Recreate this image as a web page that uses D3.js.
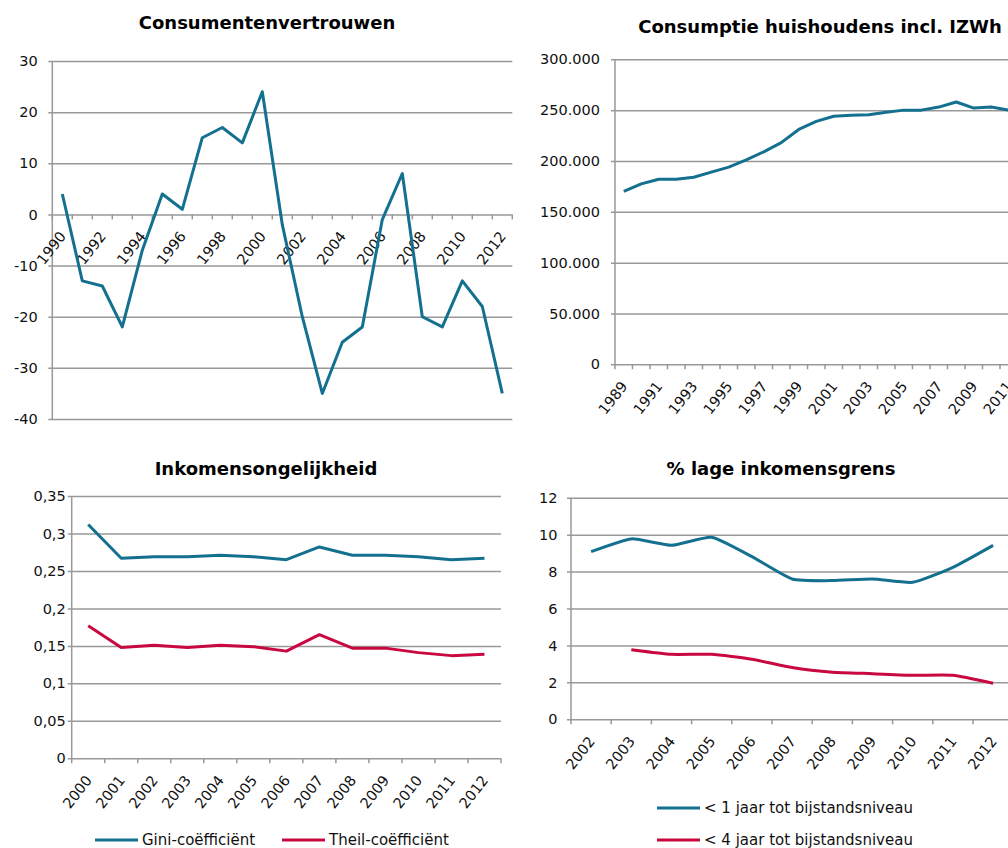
<!DOCTYPE html>
<html>
<head>
<meta charset="utf-8">
<script src="https://cdn.jsdelivr.net/npm/d3@7"></script>
<style>
    body { margin: 0; background: #fff; }
    svg { display: block; font-family: "DejaVu Sans", Verdana, sans-serif; }
</style>
</head>
<body>
<svg id="chart" width="1008" height="848"></svg>
<script>
// consumentenvertrouwen (saldo)
var vertrouwenJaren = ["1990", "1991", "1992", "1993", "1994", "1995", "1996", "1997", "1998", "1999", "2000", "2001",
    "2002", "2003", "2004", "2005", "2006", "2007", "2008", "2009", "2010", "2011", "2012"];
var vertrouwen = [4, -13, -14, -22, -7, 4, 1, 15, 17, 14, 24, -2, -20, -35, -25, -22, -1, 8, -20, -22, -13, -18, -35];
var vertrouwenTicks = [-40, -30, -20, -10, 0, 10, 20, 30];

// consumptie huishoudens incl. IZWh
var consumptieJaren = ["1989", "1990", "1991", "1992", "1993", "1994", "1995", "1996", "1997", "1998", "1999", "2000",
    "2001", "2002", "2003", "2004", "2005", "2006", "2007", "2008", "2009", "2010", "2011"];
var consumptie = [170000, 177500, 182000, 182000, 184000, 189000, 194000, 201000, 209000, 218000, 231000, 239000,
    244000, 245000, 245500, 248000, 250000, 250000, 253000, 258000, 252000, 253000, 250000];
var consumptieTicks = [0, 50000, 100000, 150000, 200000, 250000, 300000];

// inkomensongelijkheid
var ongelijkJaren = ["2000", "2001", "2002", "2003", "2004", "2005", "2006", "2007", "2008", "2009", "2010", "2011", "2012"];
var gini = [0.312, 0.267, 0.269, 0.269, 0.271, 0.269, 0.265, 0.282, 0.271, 0.271, 0.269, 0.265, 0.267];
var theil = [0.177, 0.148, 0.151, 0.148, 0.151, 0.149, 0.143, 0.165, 0.147, 0.147, 0.141, 0.137, 0.139];
var ongelijkTicks = [0, 0.05, 0.1, 0.15, 0.2, 0.25, 0.3, 0.35];

// % lage inkomensgrens
var inkomenJaren = ["2002", "2003", "2004", "2005", "2006", "2007", "2008", "2009", "2010", "2011", "2012"];
var onder1jaar = [9.08, 9.77, 9.42, 9.86, 8.81, 7.6, 7.51, 7.6, 7.42, 8.23, 9.42];
var onder4jaar = [null, 3.77, 3.52, 3.52, 3.25, 2.8, 2.55, 2.47, 2.38, 2.38, 1.95];
var inkomenTicks = [0, 2, 4, 6, 8, 10, 12];

var blue = "#13708f",
    red = "#c8083f",
    gridColor = "#999999",
    textColor = "#111111";

var svg = d3.select("#chart");

var nl = d3.formatLocale({decimal: ",", thousands: ".", grouping: [3], currency: ["€", ""], minus: "-"});

function draw_panel(cfg) {
    var g = svg.append("g");

    var x = d3.scaleBand().domain(cfg.cats).range([cfg.left, cfg.right]);
    var y = d3.scaleLinear().domain(cfg.yDomain).range([cfg.bottom, cfg.top]);
    var bw = x.bandwidth();

    // title
    g.append("text")
        .attr("x", cfg.titleX)
        .attr("y", cfg.titleY)
        .attr("text-anchor", "middle")
        .style("font-size", "18px")
        .style("font-weight", "bold")
        .attr("fill", "#000")
        .text(cfg.title);

    // y axis with gridlines
    var yAxis = d3.axisLeft(y)
        .tickValues(cfg.yTicks)
        .tickSize(-(cfg.right - cfg.left + 4))
        .tickPadding(cfg.yPad)
        .tickFormat(cfg.yFormat);

    g.append("g")
        .attr("transform", "translate(" + (cfg.left - 4) + ",0)")
        .call(yAxis)
        .call(function (a) { a.select(".domain").remove(); })
        .call(function (a) {
            a.selectAll("line").attr("stroke", gridColor).attr("stroke-width", 1.5);
            a.selectAll("text")
                .attr("fill", textColor)
                .style("font-size", "14.5px")
                .style("font-family", "DejaVu Sans, Verdana, sans-serif");
        });

    // vertical axis line
    g.append("line")
        .attr("x1", cfg.left).attr("x2", cfg.left)
        .attr("y1", cfg.top).attr("y2", cfg.bottom)
        .attr("stroke", gridColor).attr("stroke-width", 1.5);

    // category axis
    var axisY = y(cfg.xAxisAt);
    var bounds = cfg.cats.map(function (c) { return x(c); });
    bounds.push(cfg.right);

    g.append("g").selectAll("line")
        .data(bounds)
        .enter().append("line")
        .attr("x1", function (d) { return d; })
        .attr("x2", function (d) { return d; })
        .attr("y1", axisY)
        .attr("y2", axisY + 5)
        .attr("stroke", gridColor)
        .attr("stroke-width", 1.5);

    var labelCats = cfg.cats.filter(function (c, i) { return i % cfg.labelEvery === 0; });
    var xAxis = d3.axisBottom(x).tickValues(labelCats).tickSize(0);

    g.append("g")
        .attr("transform", "translate(0," + axisY + ")")
        .call(xAxis)
        .call(function (a) { a.select(".domain").remove(); })
        .call(function (a) {
            a.selectAll("text")
                .attr("x", 0)
                .attr("y", 0)
                .attr("dy", "0.35em")
                .attr("text-anchor", "end")
                .attr("transform", "translate(0.5,19) rotate(-52)")
                .attr("fill", textColor)
                .style("font-size", "14.5px")
                .style("font-family", "DejaVu Sans, Verdana, sans-serif");
        });

    // series
    cfg.series.forEach(function (s) {
        var line = d3.line()
            .defined(function (d) { return d !== null; })
            .x(function (d, i) { return x(cfg.cats[i]) + bw / 2; })
            .y(function (d) { return y(d); })
            .curve(cfg.curve || d3.curveLinear);

        g.append("path")
            .datum(s.values)
            .attr("d", line)
            .attr("fill", "none")
            .attr("stroke", s.color)
            .attr("stroke-width", 3)
            .attr("stroke-linejoin", "round");
    });

    // legend
    (cfg.legend || []).forEach(function (l, i) {
        g.append("line")
            .attr("x1", l.x).attr("x2", l.x + 43)
            .attr("y1", l.y).attr("y2", l.y)
            .attr("stroke", cfg.series[i].color)
            .attr("stroke-width", 3);
        g.append("text")
            .attr("x", l.x + 47)
            .attr("y", l.y)
            .attr("dy", "0.35em")
            .attr("fill", textColor)
            .style("font-size", "15px")
            .text(cfg.series[i].name);
    });
}

draw_panel({
    title: "Consumentenvertrouwen", titleX: 267, titleY: 29,
    cats: vertrouwenJaren, left: 52.3, right: 512.3, top: 61, bottom: 419,
    yDomain: [-40, 30], yTicks: vertrouwenTicks, yFormat: nl.format("d"), yPad: 10.5,
    xAxisAt: 0, labelEvery: 2,
    series: [{name: "Consumentenvertrouwen", values: vertrouwen, color: blue}]
});

draw_panel({
    title: "Consumptie huishoudens incl. IZWh", titleX: 820, titleY: 33,
    cats: consumptieJaren, left: 615, right: 615 + 23 * 17.5, top: 59.3, bottom: 364.3,
    yDomain: [0, 300000], yTicks: consumptieTicks, yFormat: nl.format(",d"), yPad: 11,
    xAxisAt: 0, labelEvery: 2,
    series: [{name: "Consumptie", values: consumptie, color: blue}]
});

draw_panel({
    title: "Inkomensongelijkheid", titleX: 266, titleY: 475,
    cats: ongelijkJaren, left: 71.7, right: 501, top: 496, bottom: 758.3,
    yDomain: [0, 0.35], yTicks: ongelijkTicks, yFormat: function (d) { return nl.format("")(+d.toFixed(2)); }, yPad: 2,
    xAxisAt: 0, labelEvery: 1,
    series: [
        {name: "Gini-coëfficiënt", values: gini, color: blue},
        {name: "Theil-coëfficiënt", values: theil, color: red}
    ],
    legend: [{x: 95, y: 840}, {x: 282, y: 840}]
});

draw_panel({
    title: "% lage inkomensgrens", titleX: 781, titleY: 475,
    cats: inkomenJaren, left: 571, right: 571 + 11 * 40.2, top: 497.7, bottom: 719.3,
    yDomain: [0, 12], yTicks: inkomenTicks, yFormat: nl.format("d"), yPad: 9.5,
    xAxisAt: 0, labelEvery: 1, curve: d3.curveCardinal.tension(0.5),
    series: [
        {name: "< 1 jaar tot bijstandsniveau", values: onder1jaar, color: blue},
        {name: "< 4 jaar tot bijstandsniveau", values: onder4jaar, color: red}
    ],
    legend: [{x: 657, y: 808}, {x: 657, y: 840}]
});
</script>
</body>
</html>
